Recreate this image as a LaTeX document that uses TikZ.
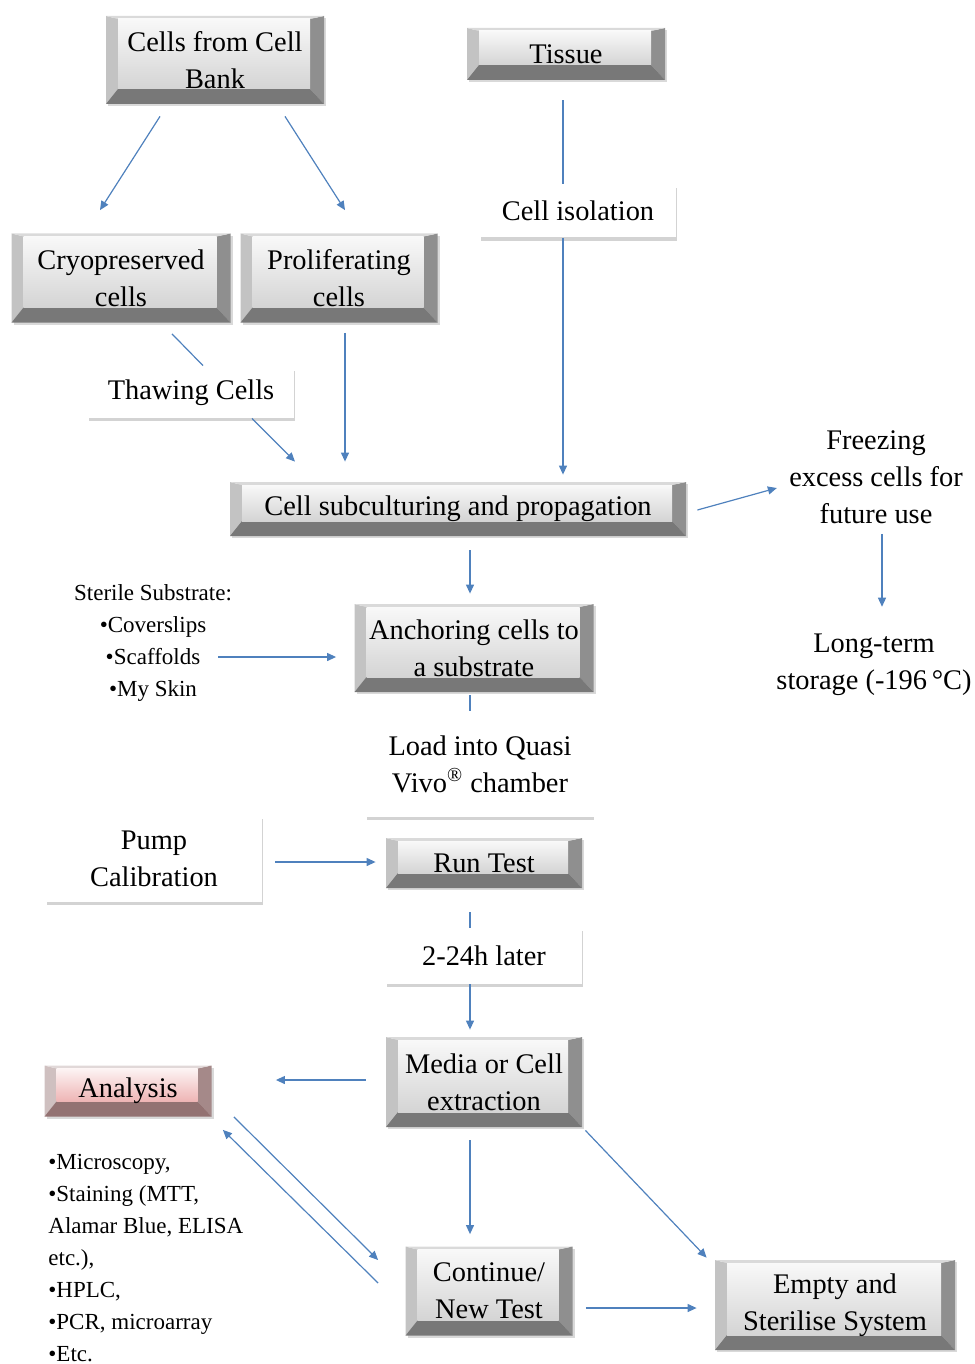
\documentclass[tikz,border=0pt]{standalone}
\usepackage{fontspec}
\setmainfont{Liberation Serif}
\usetikzlibrary{arrows.meta,shadows}

\definecolor{capface}{RGB}{212,212,212}
\definecolor{capedge}{RGB}{105,105,105}
\definecolor{pinkface}{RGB}{238,180,180}
\definecolor{pinkedge}{RGB}{135,98,98}
\definecolor{flowblue}{RGB}{79,129,189}

\tikzset{
  keycap/.style 2 args={inner sep=0pt, align=center,
    drop shadow={shadow xshift=1.2pt, shadow yshift=-1.2pt, opacity=0.3},
    path picture={
      \coordinate (psw) at (path picture bounding box.south west);
      \coordinate (pne) at (path picture bounding box.north east);
      \coordinate (pnw) at (path picture bounding box.north west);
      \coordinate (pse) at (path picture bounding box.south east);
      \coordinate (qsw) at ([shift={(6pt,7.5pt)}]psw);
      \coordinate (qne) at ([shift={(-7pt,-1.5pt)}]pne);
      \coordinate (qnw) at (qsw |- qne);
      \coordinate (qse) at (qne |- qsw);
      % bevels
      \fill[#2!40] (psw) -- (pnw) -- (qnw) -- (qsw) -- cycle;
      \fill[#2!75] (pse) -- (pne) -- (qne) -- (qse) -- cycle;
      \fill[#2!25] (pnw) -- (pne) -- (qne) -- (qnw) -- cycle;
      \fill[#2!90] (psw) -- (qsw) -- (qse) -- (pse) -- cycle;
      % face
      \shade[top color=#1!15, bottom color=#1] (qsw) rectangle (qne);
    }},
  greycap/.style={keycap={capface}{capedge}},
  pinkcap/.style={keycap={pinkface}{pinkedge}},
  notebox/.style={fill=white, inner sep=0pt, align=center,
    drop shadow={shadow xshift=0.3pt, shadow yshift=-1.6pt, opacity=0.35}},
  plaintext/.style={inner sep=0pt, align=center},
  listtext/.style={inner sep=0pt, font=\fontsize{11.5}{16}\selectfont},
  flow/.style={draw=flowblue, line width=0.6pt},
  flowarrow/.style={flow, -{Triangle[length=4.5pt,width=4pt]}}
}

\begin{document}
\begin{tikzpicture}[x=0.5pt, y=-0.5pt, font=\fontsize{14.2}{18.5}\selectfont]
\useasboundingbox (0,0) rectangle (974,1364);

% sources
\node[greycap, minimum width=109pt, minimum height=44pt] (bank) at (215,60) {Cells from Cell\\Bank};
\node[greycap, minimum width=99pt, minimum height=26pt] (tissue) at (566,54) {Tissue};
\node[greycap, minimum width=109.5pt, minimum height=44.5pt] (cryo) at (121,278) {Cryopreserved\\cells};
\node[greycap, minimum width=98.5pt, minimum height=44.5pt] (prolif) at (339,278) {Proliferating\\cells};
\node[notebox, minimum width=98pt, minimum height=26.5pt] (isolation) at (578,211) {Cell isolation};
\node[notebox, minimum width=103pt, minimum height=25pt] (thawing) at (191,393) {Thawing Cells};

% culture
\node[greycap, minimum width=228pt, minimum height=27pt] (subculture) at (458,509) {Cell subculturing and propagation};
\node[plaintext] (freezing) at (876,477) {Freezing\\excess cells for\\future use};
\node[plaintext] (storage) at (874,665) {Long-term\\storage (-196\,°C)};
\node[listtext, align=center] (sterile) at (153,643) {Sterile Substrate:\\•Coverslips\\•Scaffolds\\•My Skin};
\node[greycap, minimum width=119.5pt, minimum height=44pt] (anchoring) at (474,648) {Anchoring cells to\\a substrate};
\node[notebox, minimum width=113.5pt, minimum height=52.5pt] (load) at (480,764) {Load into Quasi\\Vivo\textsuperscript{\textregistered} chamber};

% test
\node[notebox, minimum width=108pt, minimum height=43pt] (pump) at (154,859) {Pump\\Calibration};
\node[greycap, minimum width=98pt, minimum height=25pt] (runtest) at (484,863) {Run Test};
\node[notebox, minimum width=98pt, minimum height=28pt] (later) at (484,956) {2-24h later};
\node[greycap, minimum width=98pt, minimum height=45pt] (media) at (484,1082) {Media or Cell\\extraction};
\node[pinkcap, minimum width=83.5pt, minimum height=25.5pt] (analysis) at (128,1091) {Analysis};
\node[listtext, align=left, anchor=west] (methods) at (48,1258) {•Microscopy,\\•Staining (MTT,\\Alamar Blue, ELISA\\etc.),\\•HPLC,\\•PCR, microarray\\•Etc.};
\node[greycap, minimum width=83.5pt, minimum height=44.5pt] (newtest) at (489,1291) {Continue/\\New Test};
\node[greycap, minimum width=120pt, minimum height=45pt] (empty) at (835,1305) {Empty and\\Sterilise System};

% connectors
\draw[flowarrow] ([shift={(-27.5pt,-6pt)}]bank.south) -- ([shift={(-10.5pt,11.5pt)}]cryo.north);
\draw[flowarrow] ([shift={(35pt,-6pt)}]bank.south) -- ([shift={(3pt,11.5pt)}]prolif.north);
\draw[flow] ([shift={(-1.5pt,-10pt)}]tissue.south) -- ([xshift=-7.5pt]isolation.north);
\draw[flowarrow] ([xshift=-7.5pt]isolation.south) -- ([shift={(52.5pt,3.5pt)}]subculture.north);
\draw[flow] ([shift={(25.5pt,-5.5pt)}]cryo.south) -- ([shift={(6pt,1pt)}]thawing.north);
\draw[flowarrow] ([xshift=30.5pt]thawing.south) -- ([shift={(-81.5pt,10pt)}]subculture.north);
\draw[flowarrow] ([shift={(3pt,-5pt)}]prolif.south) -- ([shift={(-56.5pt,10pt)}]subculture.north);
\draw[flowarrow] ([shift={(5.5pt,-0.5pt)}]subculture.east) -- ([shift={(-6pt,-5.5pt)}]freezing.west);
\draw[flowarrow] ([shift={(3pt,-5pt)}]freezing.south) -- ([shift={(4pt,13.5pt)}]storage.north);
\draw[flowarrow] ([shift={(6pt,-7pt)}]subculture.south) -- ([shift={(-2pt,5pt)}]anchoring.north);
\draw[flowarrow] ([shift={(-7pt,-7pt)}]sterile.east) -- ([shift={(-9pt,-4.5pt)}]anchoring.west);
\draw[flow] ([shift={(-2pt,-1.5pt)}]anchoring.south) -- ([xshift=-5pt]load.north);
\draw[flowarrow] ([shift={(6.5pt,-1.5pt)}]pump.east) -- ([shift={(-5pt,0.5pt)}]runtest.west);
\draw[flow] ([shift={(-7pt,-12pt)}]runtest.south) -- ([xshift=-7pt]later.north);
\draw[flowarrow] ([xshift=-7pt]later.south) -- ([shift={(-7pt,3.5pt)}]media.north);
\draw[flowarrow] ([shift={(-10pt,1pt)}]media.west) -- ([shift={(32pt,5.5pt)}]analysis.east);
\draw[flowarrow] ([shift={(-7pt,-6.5pt)}]media.south) -- ([shift={(-9.5pt,6pt)}]newtest.north);
\draw[flowarrow] ([shift={(1.5pt,-1.5pt)}]media.south east) -- ([shift={(-4pt,1pt)}]empty.north west);
\draw[flowarrow] ([shift={(6.5pt,-8.5pt)}]newtest.east) -- ([shift={(-9pt,-1.5pt)}]empty.west);
\draw[flowarrow] ([xshift=11pt]analysis.south east) -- ([shift={(-13.5pt,15.5pt)}]newtest.west);
\draw[flowarrow] ([shift={(-13.5pt,4pt)}]newtest.west) -- ([shift={(5.5pt,-6.5pt)}]analysis.south east);
\end{tikzpicture}
\end{document}
